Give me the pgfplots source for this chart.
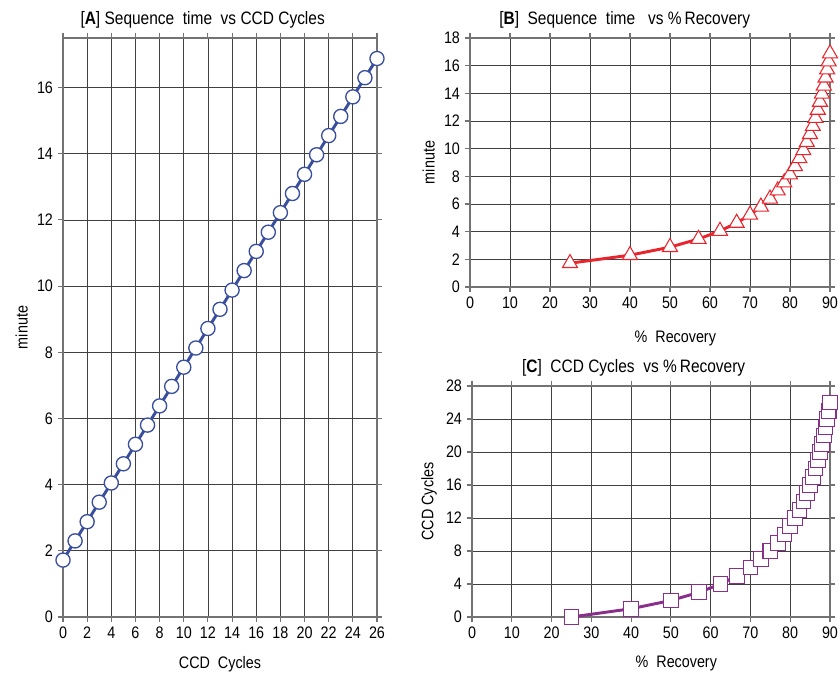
\documentclass[border=0pt]{standalone}
\usepackage{fontspec}
\setmainfont{Liberation Sans}[FakeStretch=0.86]
\usepackage{pgfplots}
\pgfplotsset{compat=1.18}
\definecolor{cA}{HTML}{3A4E9E}
\definecolor{cB}{HTML}{E8252D}
\definecolor{cC}{HTML}{8A2E8C}
\pgfplotsset{
  base/.style={
    scale only axis,
    anchor=south west,
    clip=false,
    axis line style={black!55, line width=0.9pt},
    grid=major,
    major grid style={black!75, line width=0.6pt},
    tick align=outside,
    major tick length=4pt,
    tick style={black!55, line width=0.8pt},
    x tick label style={font=\fontsize{12.5}{14}\selectfont},
    y tick label style={font=\fontsize{12.5}{14}\selectfont},
    /pgf/number format/assume math mode=true,
    label style={font=\fontsize{12.5}{14}\selectfont},
    xlabel style={yshift=-6pt},
    title style={font=\fontsize{13.5}{15}\selectfont},
    every axis plot/.append style={line width=2.2pt},
  }
}
\begin{document}
\begin{tikzpicture}
\path[use as bounding box] (0,0) rectangle (630pt,505.5pt);
% Panel A
\begin{axis}[base,
  at={(47.25pt,42.75pt)}, width=235.5pt, height=434.25pt,
  xmin=0, xmax=26, ymin=0, ymax=17.5,
  xtick={0,2,...,26}, ytick={0,2,...,16},
  xlabel={CCD\ \ Cycles}, ylabel={minute},
  title={[\textbf{A}] Sequence\ \ time\ \ vs CCD Cycles},
  title style={yshift=-2pt, xshift=-13pt},
]
\addplot[cA, mark=*, mark options={fill=white, draw=cA, line width=1pt, solid}, mark size=5.3pt] coordinates {
(0,1.72) (1,2.30) (2,2.88) (3,3.47) (4,4.05) (5,4.63) (6,5.22) (7,5.80) (8,6.38)
(9,6.97) (10,7.55) (11,8.13) (12,8.72) (13,9.30) (14,9.88) (15,10.47) (16,11.05)
(17,11.63) (18,12.22) (19,12.80) (20,13.38) (21,13.97) (22,14.55) (23,15.13)
(24,15.72) (25,16.30) (26,16.88)};
\end{axis}
% Panel B
\begin{axis}[base,
  at={(352.5pt,290.25pt)}, width=270pt, height=186.75pt,
  xmin=0, xmax=90, ymin=0, ymax=18,
  xtick={0,10,...,90}, ytick={0,2,...,18},
  xlabel={\%\ \ Recovery}, ylabel={minute},
  xlabel style={yshift=-4pt, xshift=19pt},
  title={[\textbf{B}]\ \ Sequence\ \ time\ \ \ vs \%\,Recovery},
  title style={yshift=-2pt, xshift=-19pt},
]
\addplot[cB, mark=triangle*, mark options={fill=white, draw=cB, line width=0.8pt, solid}, mark size=6.5pt] coordinates {
(25.00,1.72) (40.00,2.30) (50.00,2.88) (57.14,3.47) (62.50,4.05) (66.67,4.63)
(70.00,5.22) (72.73,5.80) (75.00,6.38) (76.92,6.97) (78.57,7.55) (80.00,8.13)
(81.25,8.72) (82.35,9.30) (83.33,9.88) (84.21,10.47) (85.00,11.05) (85.71,11.63)
(86.36,12.22) (86.96,12.80) (87.50,13.38) (88.00,13.97) (88.46,14.55) (88.89,15.13)
(89.29,15.72) (89.66,16.30) (90.00,16.88)};
\end{axis}
% Panel C
\begin{axis}[base,
  at={(354pt,42.75pt)}, width=268.5pt, height=173.25pt,
  xmin=0, xmax=90, ymin=0, ymax=28,
  xtick={0,10,...,90}, ytick={0,4,...,28},
  xlabel={\%\ \ Recovery}, ylabel={CCD Cycles},
  xlabel style={xshift=19pt},
  title={[\textbf{C}]\ \ CCD Cycles\ \ vs \%\,Recovery},
  title style={yshift=-2pt, xshift=-13pt},
]
\addplot[cC, mark=square*, mark options={fill=white, draw=cC, line width=0.8pt, solid}, mark size=5.5pt] coordinates {
(25.00,0) (40.00,1) (50.00,2) (57.14,3) (62.50,4) (66.67,5)
(70.00,6) (72.73,7) (75.00,8) (76.92,9) (78.57,10) (80.00,11)
(81.25,12) (82.35,13) (83.33,14) (84.21,15) (85.00,16) (85.71,17)
(86.36,18) (86.96,19) (87.50,20) (88.00,21) (88.46,22) (88.89,23)
(89.29,24) (89.66,25) (90.00,26)};
\end{axis}
\end{tikzpicture}
\end{document}
